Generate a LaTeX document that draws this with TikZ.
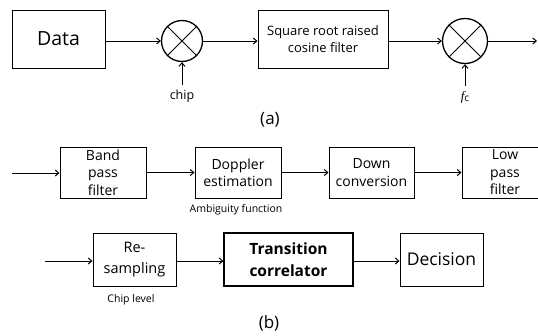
\documentclass[tikz,border=0pt]{standalone}
\usepackage{fontspec}
\setmainfont{Open Sans}
\newfontfamily\fcfont{Liberation Serif}
\usetikzlibrary{arrows.meta}
\begin{document}
\begin{tikzpicture}[x=1pt, y=-1pt,
		blk/.style={draw, line width=1pt, align=center, inner sep=0pt},
		mix/.style={draw, circle, line width=1.3pt, inner sep=0pt},
		arr/.style={-{Straight Barb[length=3.5pt, width=6pt]}, line width=1pt},
		note/.style={font=\fontsize{10.5}{12}\selectfont}]
	\useasboundingbox (0, 0) rectangle (538, 335);
	% (a)
	\node[blk, minimum width=93pt, minimum height=58pt, font=\fontsize{19.5}{22}\selectfont] (data) at (58.5, 39) {Data};
	\node[mix, minimum size=41pt] (mixA) at (182, 41) {};
	\node[blk, minimum width=130pt, minimum height=58pt, font=\fontsize{13}{17}\selectfont] (srrc) at (323, 39) {Square root raised\\cosine filter};
	\node[mix, minimum size=45pt] (mixB) at (465, 41) {};
	\draw[line width=1pt] (mixA.north west) -- (mixA.south east) (mixA.north east) -- (mixA.south west);
	\draw[line width=1pt] (mixB.north west) -- (mixB.south east) (mixB.north east) -- (mixB.south west);
	\coordinate (out) at (537, 41);
	\node[font=\fontsize{12.5}{14}\selectfont] (chip) at (182, 96) {chip};
	\node[font=\fontsize{13}{15}\selectfont] (fc) at (465, 97) {{\fcfont\itshape f}\raisebox{-0.2ex}{\fontsize{10}{11}\selectfont c}};
	\draw[arr] (data.east |- mixA) -- (mixA);
	\draw[arr] (mixA) -- (srrc.west |- mixA);
	\draw[arr] (srrc.east |- mixB) -- (mixB);
	\draw[arr] (mixB) -- (out);
	\draw[arr] (chip.north) ++(0, -1) -- (mixA.south);
	\draw[arr] (fc.north) ++(0, -2) -- (mixB.south);
	\node[font=\fontsize{17}{19}\selectfont] (capa) at (270, 120) {(a)};
	% (b)
	\begin{scope}[every node/.append style={font=\fontsize{14}{17.5}\selectfont}]
		\node[blk, minimum width=86pt, minimum height=51pt] (bpf) at (103, 172.5) {Band\\pass\\filter};
		\node[blk, minimum width=86pt, minimum height=51pt] (dop) at (238, 172.5) {Doppler\\estimation};
		\node[blk, minimum width=85pt, minimum height=51pt] (down) at (371.5, 172.5) {Down\\conversion};
		\node[blk, minimum width=86pt, minimum height=51pt] (lpf) at (505, 172.5) {Low\\pass\\filter};
	\end{scope}
	\coordinate (in1) at (12, 173);
	\node[note] (amb) at (236, 210) {Ambiguity function};
	\draw[arr] (in1) -- (bpf.west |- in1);
	\draw[arr] (bpf) -- (dop);
	\draw[arr] (dop) -- (down);
	\draw[arr] (down) -- (lpf);
	\node[blk, minimum width=83pt, minimum height=53pt, font=\fontsize{14.5}{21}\selectfont] (resamp) at (134.5, 259.5) {Re-\\sampling};
	\node[blk, minimum width=129pt, minimum height=53pt, line width=1.2pt, font=\fontsize{15.5}{21.5}\selectfont\bfseries] (trans) at (288.5, 259.5) {Transition\\correlator};
	\node[blk, minimum width=83pt, minimum height=53pt, font=\fontsize{17.5}{20}\selectfont] (dec) at (441.5, 259.5) {Decision};
	\coordinate (in2) at (45, 261);
	\node[note] (chiplvl) at (131, 300) {Chip level};
	\draw[arr] (in2) -- (resamp.west |- in2);
	\draw[arr] (resamp.east |- in2) -- (trans.west |- in2);
	\draw[arr] (trans.east |- in2) -- (dec.west |- in2);
	\node[font=\fontsize{17}{19}\selectfont] (capb) at (269, 323) {(b)};
\end{tikzpicture}
\end{document}
